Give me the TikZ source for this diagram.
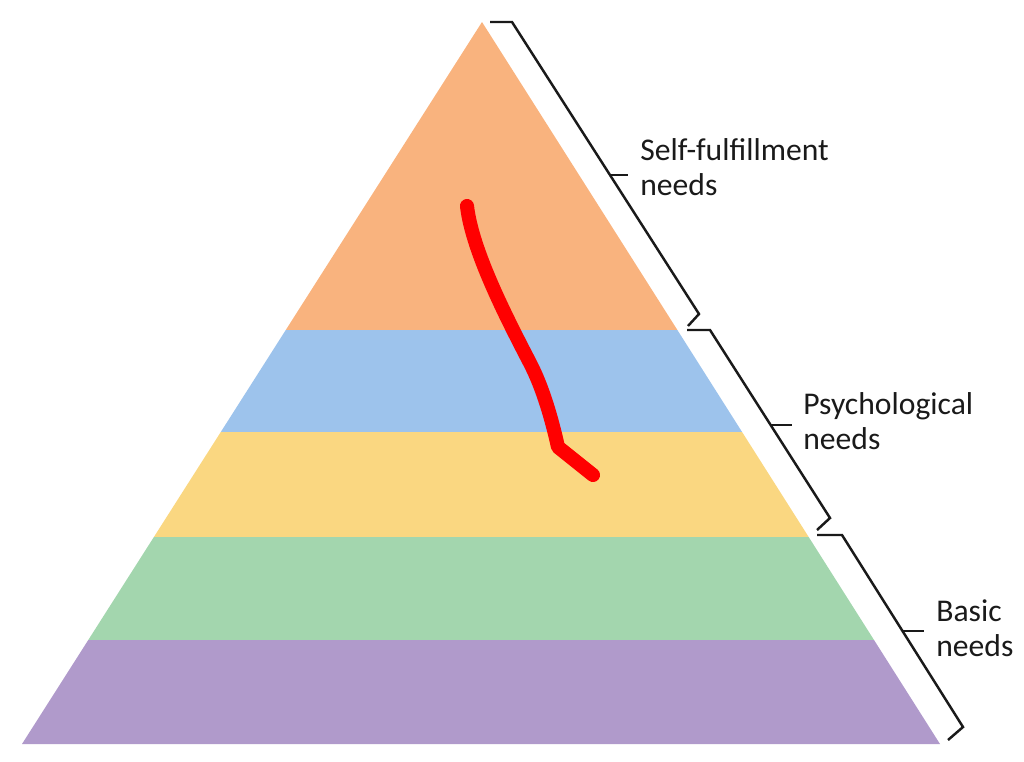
\documentclass[tikz,border=0pt]{standalone}
\usepackage{fontspec}
\setmainfont{Carlito}
\usepackage{xcolor}
\usetikzlibrary{calc}
\definecolor{tierorange}{HTML}{F9B37E}
\definecolor{tierblue}{HTML}{9DC3EC}
\definecolor{tieryellow}{HTML}{FAD781}
\definecolor{tiergreen}{HTML}{A3D6AE}
\definecolor{tierpurple}{HTML}{B09ACB}
\definecolor{ink}{HTML}{1A1A1A}

\begin{document}
\begin{tikzpicture}[
    x=0.02cm, y=-0.02cm,
    brace line/.style={draw=ink, line width=1.4pt, line join=miter},
    need label/.style={anchor=west, inner sep=0pt, align=left, text=ink, font=\fontsize{18}{20}\selectfont},
    scribble/.style={draw=red, line width=8pt, line cap=round, line join=round}
  ]
  \useasboundingbox (0,0) rectangle (1024,761);
  % pyramid corners
  \coordinate (apex) at (482,22);
  \coordinate (bl) at (22,744);
  \coordinate (br) at (940,744);
  % tier edges
  \coordinate (l1) at ($(apex)!0.4266!(bl)$);
  \coordinate (r1) at ($(apex)!0.4266!(br)$);
  \coordinate (l2) at ($(apex)!0.5679!(bl)$);
  \coordinate (r2) at ($(apex)!0.5679!(br)$);
  \coordinate (l3) at ($(apex)!0.7133!(bl)$);
  \coordinate (r3) at ($(apex)!0.7133!(br)$);
  \coordinate (l4) at ($(apex)!0.8560!(bl)$);
  \coordinate (r4) at ($(apex)!0.8560!(br)$);
  \fill[tierorange] (apex) -- (r1) -- (l1) -- cycle;
  \fill[tierblue] (l1) -- (r1) -- (r2) -- (l2) -- cycle;
  \fill[tieryellow] (l2) -- (r2) -- (r3) -- (l3) -- cycle;
  \fill[tiergreen] (l3) -- (r3) -- (r4) -- (l4) -- cycle;
  \fill[tierpurple] (l4) -- (r4) -- (br) -- (bl) -- cycle;

  % braces
  \draw[brace line] (490,22) -- (512,22) -- (699,314) -- (688,326);
  \draw[brace line] (610,175) -- ++(18,0);
  \draw[brace line] (687,330) -- (710,330) -- (830,518) -- (817,530);
  \draw[brace line] (771,425) -- ++(21,0);
  \draw[brace line] (817,535) -- (842,535) -- (963,727) -- (948,740);
  \draw[brace line] (903,631) -- ++(21,0);

  \node[need label] (selfneeds) at (640,167) {Self-fulfillment\\needs};
  \node[need label] (psychneeds) at (803,421) {Psychological\\needs};
  \node[need label] (basicneeds) at (936,628) {Basic\\needs};

  % red mark
  \draw[scribble] (467,206) .. controls (472,250) and (505,315) .. (530,363)
    .. controls (543,388) and (552,420) .. (558,447) -- (593,475);
\end{tikzpicture}
\end{document}
